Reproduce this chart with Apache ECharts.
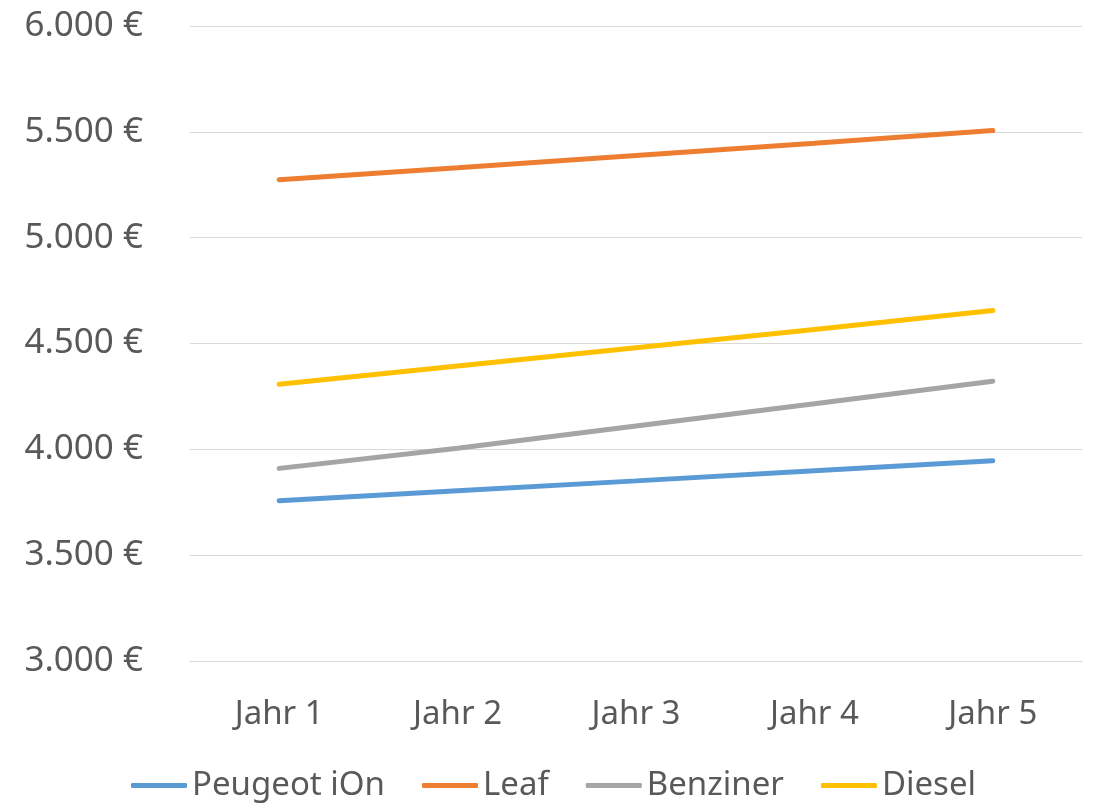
<!DOCTYPE html>
<html>
<head>
<meta charset="utf-8">
<script src="https://cdn.jsdelivr.net/npm/echarts@6/dist/echarts.min.js"></script>
<style>
  html, body { margin: 0; padding: 0; background: #fff; }
  #chart { width: 1094px; height: 804px; }
</style>
</head>
<body>
<div id="chart"></div>
<script>
var years = ['Jahr 1', 'Jahr 2', 'Jahr 3', 'Jahr 4', 'Jahr 5'];
var peugeot = [3757, 3804, 3851, 3899, 3946];
var leaf = [5274, 5330, 5388, 5446, 5506];
var benziner = [3910, 4005, 4110, 4215, 4322];
var diesel = [4308, 4394, 4480, 4566, 4656];

var names = ['Peugeot iOn', 'Leaf', 'Benziner', 'Diesel'];
var colors = ['#5B9BD5', '#ED7D31', '#A5A5A5', '#FFC000'];
var values = [peugeot, leaf, benziner, diesel];

var font = '"Noto Sans", "Open Sans", sans-serif';
var textColor = '#595959';

function euro(v){
    return String(v).replace(/\B(?=(\d{3})+(?!\d))/g, '.') + ' €';
}

var chart = echarts.init(document.getElementById('chart'), null, {renderer: 'canvas'});

var series = names.map(function(name, i){
    return {
        name: name,
        type: 'line',
        data: values[i],
        symbol: 'none',
        smooth: false,
        lineStyle: {width: 5, color: colors[i], cap: 'round'},
        itemStyle: {color: colors[i]}
    };
});

chart.setOption({
    animation: false,
    backgroundColor: '#fff',
    grid: {
        left: 190, right: 12, top: 26, bottom: 143,
        containLabel: false,
        outerBoundsMode: 'none'
    },
    legend: {
        data: names,
        icon: 'roundRect',
        left: 131,
        top: 769,
        padding: 0,
        itemWidth: 56,
        itemHeight: 5,
        itemGap: 37,
        textStyle: {fontFamily: font, fontSize: 33, color: textColor}
    },
    xAxis: {
        type: 'category',
        data: years,
        boundaryGap: true,
        axisLine: {show: true, lineStyle: {color: '#D9D9D9', width: 1}},
        axisTick: {show: false},
        axisLabel: {fontFamily: font, fontSize: 33, color: textColor, margin: 37}
    },
    yAxis: {
        type: 'value',
        min: 3000,
        max: 6000,
        interval: 500,
        axisLine: {show: false},
        axisTick: {show: false},
        splitLine: {lineStyle: {color: '#D9D9D9', width: 1}},
        axisLabel: {
            fontFamily: font, fontSize: 35, color: textColor, margin: 47,
            formatter: euro
        }
    },
    series: series
});
</script>
</body>
</html>
